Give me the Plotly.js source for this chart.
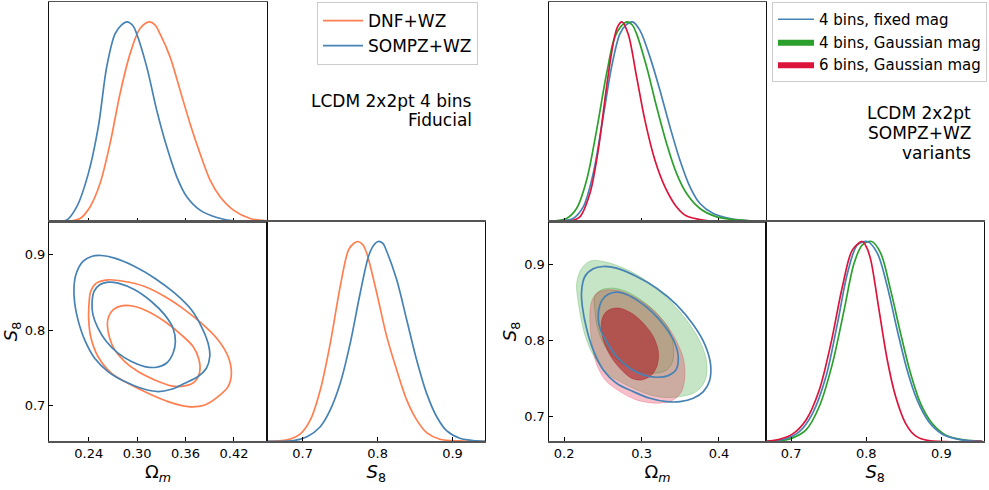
<!DOCTYPE html>
<html><head><meta charset="utf-8">
<script src="https://cdn.plot.ly/plotly-3.0.1.min.js"></script>
<style>html,body{margin:0;padding:0;background:#fff}#chart{width:989px;height:490px}</style>
</head><body><div id="chart"></div>
<script>
// ---------------- DATA ----------------
const omegaTicksLeft = [0.24, 0.30, 0.36, 0.42];
const omegaTicksRight = [0.2, 0.3, 0.4];
const s8Ticks = [0.7, 0.8, 0.9];
const omegaRangeLeft = [0.1908, 0.4609];
const s8RangeLeft = [0.6528, 0.9437];
const omegaRangeRight = [0.1798, 0.4611];
const s8RangeRight = [0.6670, 0.9567];
const densityRange = [0, 1.1];

const legendLeftNames = ['DNF+WZ', 'SOMPZ+WZ'];
const legendRightNames = ['4 bins, fixed mag', '4 bins, Gaussian mag', '6 bins, Gaussian mag'];
const textLeftLines = ['LCDM 2x2pt 4 bins', 'Fiducial'];
const textRightLines = ['LCDM 2x2pt', 'SOMPZ+WZ', 'variants'];

// Left: Omega_m marginals
const dnfOm_x = [0.1908, 0.2127, 0.2292, 0.2416, 0.254, 0.2664, 0.2788, 0.2912, 0.3036, 0.3151, 0.3222, 0.3284, 0.3408, 0.3532, 0.3656, 0.378, 0.3904, 0.4028, 0.4193, 0.44, 0.4609];
const dnfOm_p = [0, 0, 0.015, 0.073, 0.19, 0.39, 0.64, 0.84, 0.967, 1.0, 0.985, 0.94, 0.825, 0.658, 0.49, 0.34, 0.207, 0.124, 0.057, 0.015, 0.003];
const sompzOm_x = [0.1908, 0.2127, 0.2251, 0.2395, 0.2519, 0.2623, 0.2726, 0.2808, 0.2875, 0.2950, 0.2995, 0.3119, 0.3243, 0.3367, 0.3491, 0.3615, 0.378, 0.3987, 0.4193, 0.4609];
const sompzOm_p = [0, 0.007, 0.073, 0.24, 0.474, 0.775, 0.94, 0.985, 1.0, 0.98, 0.94, 0.775, 0.557, 0.374, 0.224, 0.124, 0.057, 0.02, 0.003, 0];
// Left: S8 marginals
const dnfS8_x = [0.6535, 0.6793, 0.6969, 0.7102, 0.7235, 0.7368, 0.7501, 0.7612, 0.7680, 0.7737, 0.7800, 0.7856, 0.7989, 0.8122, 0.8255, 0.8388, 0.8521, 0.8654, 0.8831, 0.9097, 0.9434];
const dnfS8_p = [0, 0.007, 0.037, 0.107, 0.257, 0.49, 0.775, 0.958, 0.99, 1, 0.985, 0.94, 0.741, 0.524, 0.357, 0.207, 0.107, 0.043, 0.01, 0.002, 0];
const sompzS8_x = [0.6535, 0.688, 0.7058, 0.7235, 0.7368, 0.7501, 0.7634, 0.7767, 0.7878, 0.7945, 0.8007, 0.8070, 0.8122, 0.8255, 0.8388, 0.8521, 0.8654, 0.8787, 0.892, 0.9097, 0.9319, 0.9434];
const sompzS8_p = [0, 0.003, 0.023, 0.073, 0.157, 0.29, 0.49, 0.741, 0.925, 0.98, 1, 0.99, 0.95, 0.808, 0.608, 0.407, 0.24, 0.124, 0.053, 0.015, 0.002, 0];
// Left: 2D contours (68% inner, 95% outer)
const sompzOuter_om = [0.2218, 0.2247, 0.2329, 0.2433, 0.2557, 0.2722, 0.2970, 0.3218, 0.3466, 0.3672, 0.3796, 0.3879, 0.3900, 0.3858, 0.3755, 0.3590, 0.3424, 0.3259, 0.3052, 0.2846, 0.2639, 0.2474, 0.2350, 0.2267, 0.2226, 0.2218];
const sompzOuter_s8 = [0.8577, 0.8753, 0.8908, 0.8974, 0.8987, 0.8952, 0.8842, 0.8687, 0.8488, 0.8268, 0.8047, 0.7826, 0.7650, 0.7495, 0.7385, 0.7296, 0.7217, 0.7186, 0.7230, 0.7318, 0.7451, 0.7627, 0.7870, 0.8135, 0.8356, 0.8577];
const sompzInner_om = [0.2441, 0.2466, 0.2536, 0.2639, 0.2763, 0.2970, 0.3176, 0.3342, 0.3445, 0.3474, 0.3445, 0.3362, 0.3238, 0.3094, 0.2929, 0.2763, 0.2619, 0.2515, 0.2453, 0.2441];
const sompzInner_s8 = [0.8356, 0.8511, 0.8599, 0.8634, 0.8621, 0.8533, 0.8378, 0.8201, 0.8025, 0.7848, 0.7694, 0.7561, 0.7508, 0.7517, 0.7583, 0.7694, 0.7848, 0.8025, 0.8201, 0.8356];
const dnfOuter_om = [0.2400, 0.2424, 0.2495, 0.2639, 0.2846, 0.3094, 0.3342, 0.3590, 0.3796, 0.4003, 0.4127, 0.4168, 0.4127, 0.4003, 0.3838, 0.3631, 0.3383, 0.3135, 0.2887, 0.2681, 0.2515, 0.2424, 0.2400, 0.2400];
const dnfOuter_s8 = [0.8268, 0.8511, 0.8621, 0.8665, 0.8643, 0.8577, 0.8444, 0.8268, 0.8091, 0.7870, 0.7650, 0.7429, 0.7252, 0.7120, 0.7009, 0.6987, 0.7053, 0.7164, 0.7296, 0.7429, 0.7650, 0.7915, 0.8135, 0.8268];
const dnfInner_om = [0.2631, 0.2648, 0.2701, 0.2805, 0.2970, 0.3135, 0.3342, 0.3548, 0.3693, 0.3767, 0.3776, 0.3714, 0.3590, 0.3424, 0.3218, 0.3011, 0.2846, 0.2722, 0.2660, 0.2631];
const dnfInner_s8 = [0.8069, 0.8179, 0.8268, 0.8321, 0.8312, 0.8246, 0.8113, 0.7937, 0.7782, 0.7605, 0.7451, 0.7318, 0.7261, 0.7261, 0.7340, 0.7451, 0.7583, 0.7738, 0.7892, 0.8069];

// Right: Omega_m marginals
const fixedOm_x = [0.1798, 0.1944, 0.2116, 0.2246, 0.2375, 0.2504, 0.2613, 0.272, 0.2800, 0.2884, 0.2979, 0.3108, 0.3237, 0.3367, 0.3496, 0.3625, 0.3754, 0.3926, 0.4142, 0.4401, 0.4611];
const fixedOm_p = [0, 0.002, 0.015, 0.073, 0.24, 0.524, 0.775, 0.94, 0.985, 1, 0.958, 0.825, 0.658, 0.474, 0.307, 0.174, 0.09, 0.04, 0.015, 0.003, 0];
const gauss4Om_x = [0.1798, 0.1858, 0.2031, 0.216, 0.229, 0.2419, 0.2548, 0.2655, 0.2740, 0.2815, 0.2880, 0.2936, 0.3065, 0.3195, 0.3324, 0.3453, 0.3582, 0.3754, 0.397, 0.4271, 0.4611];
const gauss4Om_p = [0, 0.002, 0.015, 0.065, 0.207, 0.457, 0.741, 0.925, 0.98, 1, 0.985, 0.94, 0.775, 0.574, 0.39, 0.24, 0.14, 0.065, 0.023, 0.007, 0];
const gauss6Om_x = [0.1798, 0.2074, 0.2203, 0.2332, 0.244, 0.2548, 0.2633, 0.2690, 0.2746, 0.2827, 0.2936, 0.3043, 0.3173, 0.3302, 0.3453, 0.3582, 0.3754, 0.397, 0.4611];
const gauss6Om_p = [0, 0.002, 0.023, 0.14, 0.357, 0.674, 0.891, 0.975, 1, 0.94, 0.725, 0.508, 0.307, 0.174, 0.073, 0.027, 0.01, 0, 0];
// Right: S8 marginals
const fixedS8_x = [0.6670, 0.6756, 0.6934, 0.711, 0.7286, 0.7464, 0.7617, 0.775, 0.7882, 0.8015, 0.8147, 0.828, 0.8412, 0.8544, 0.8677, 0.8832, 0.9008, 0.9229, 0.9543];
const fixedS8_p = [0, 0.002, 0.013, 0.048, 0.14, 0.324, 0.59, 0.841, 0.983, 1, 0.942, 0.775, 0.557, 0.357, 0.207, 0.098, 0.037, 0.01, 0];
const gauss4S8_x = [0.6670, 0.6845, 0.7021, 0.7199, 0.7375, 0.7551, 0.7706, 0.7838, 0.7948, 0.8073, 0.8192, 0.8324, 0.8457, 0.8589, 0.8722, 0.8876, 0.9053, 0.9273, 0.9543];
const gauss4S8_p = [0, 0.002, 0.017, 0.057, 0.174, 0.39, 0.658, 0.891, 0.983, 1, 0.942, 0.758, 0.54, 0.34, 0.19, 0.09, 0.032, 0.008, 0];
const gauss6S8_x = [0.6670, 0.6845, 0.7021, 0.7199, 0.7375, 0.753, 0.7683, 0.7816, 0.7948, 0.8005, 0.806, 0.817, 0.828, 0.8391, 0.8523, 0.8656, 0.8832, 0.9543];
const gauss6S8_p = [0, 0.01, 0.037, 0.107, 0.257, 0.49, 0.775, 0.958, 1, 0.97, 0.908, 0.658, 0.407, 0.224, 0.09, 0.027, 0.003, 0];
// Right: 2D contours
const gauss4Outer_om = [0.2160, 0.2203, 0.2289, 0.2375, 0.2505, 0.2720, 0.2979, 0.3237, 0.3453, 0.3625, 0.3754, 0.3832, 0.3841, 0.3776, 0.3668, 0.3496, 0.3323, 0.3108, 0.2893, 0.2720, 0.2548, 0.2375, 0.2281, 0.2225, 0.2181, 0.2160];
const gauss4Outer_s8 = [0.8732, 0.8908, 0.9018, 0.9053, 0.9040, 0.8974, 0.8842, 0.8644, 0.8424, 0.8205, 0.7985, 0.7765, 0.7545, 0.7391, 0.7303, 0.7259, 0.7246, 0.7281, 0.7369, 0.7457, 0.7567, 0.7809, 0.8029, 0.8249, 0.8512, 0.8732];
const gauss4Inner_om = [0.2397, 0.2483, 0.2634, 0.2806, 0.3022, 0.3194, 0.3345, 0.3410, 0.3401, 0.3323, 0.3173, 0.2979, 0.2806, 0.2634, 0.2505, 0.2427, 0.2397, 0.2397];
const gauss4Inner_s8 = [0.8578, 0.8666, 0.8688, 0.8644, 0.8512, 0.8358, 0.8161, 0.7941, 0.7721, 0.7611, 0.7567, 0.7589, 0.7655, 0.7787, 0.7963, 0.8183, 0.8402, 0.8578];
const gauss6Outer_om = [0.2354, 0.2419, 0.2548, 0.2720, 0.2936, 0.3151, 0.3323, 0.3453, 0.3539, 0.3560, 0.3517, 0.3410, 0.3194, 0.2936, 0.2720, 0.2548, 0.2440, 0.2375, 0.2341, 0.2332, 0.2354];
const gauss6Outer_s8 = [0.8512, 0.8622, 0.8666, 0.8653, 0.8556, 0.8402, 0.8205, 0.7985, 0.7765, 0.7545, 0.7325, 0.7215, 0.7171, 0.7215, 0.7325, 0.7457, 0.7633, 0.7853, 0.8117, 0.8337, 0.8512];
const gauss6Inner_om = [0.2483, 0.2526, 0.2612, 0.2720, 0.2871, 0.3022, 0.3151, 0.3216, 0.3203, 0.3130, 0.3000, 0.2871, 0.2720, 0.2591, 0.2505, 0.2483, 0.2483];
const gauss6Inner_s8 = [0.8249, 0.8358, 0.8416, 0.8424, 0.8358, 0.8227, 0.8051, 0.7853, 0.7677, 0.7545, 0.7479, 0.7501, 0.7633, 0.7809, 0.8007, 0.8139, 0.8249];
const fixedOuter_om = [0.2225, 0.2268, 0.2375, 0.2505, 0.2677, 0.2936, 0.3194, 0.3453, 0.3668, 0.3819, 0.3892, 0.3875, 0.3798, 0.3668, 0.3496, 0.3323, 0.3108, 0.2893, 0.2677, 0.2505, 0.2375, 0.2289, 0.2238, 0.2225];
const fixedOuter_s8 = [0.8644, 0.8842, 0.8943, 0.8974, 0.8952, 0.8842, 0.8688, 0.8468, 0.8205, 0.7941, 0.7677, 0.7457, 0.7325, 0.7237, 0.7193, 0.7193, 0.7237, 0.7325, 0.7435, 0.7611, 0.7875, 0.8161, 0.8424, 0.8644];
const fixedInner_om = [0.2440, 0.2462, 0.2526, 0.2634, 0.2763, 0.2936, 0.3130, 0.3302, 0.3431, 0.3474, 0.3444, 0.3345, 0.3194, 0.3022, 0.2849, 0.2677, 0.2548, 0.2470, 0.2440];
const fixedInner_s8 = [0.8293, 0.8468, 0.8578, 0.8631, 0.8622, 0.8534, 0.8380, 0.8183, 0.7963, 0.7765, 0.7611, 0.7536, 0.7514, 0.7545, 0.7633, 0.7787, 0.7985, 0.8139, 0.8293];

// ---------------- STYLE ----------------
const FONT = 'DejaVu Sans';
const ORANGE = '#ff7f50', BLUE = '#4682b4', GREEN = '#2ca02c', RED = '#dc143c';
const W = 989, H = 490;
const fx = v => v / W, fy = v => 1 - v / H;
const LW = 1.7;

function line(x, y, color, xa, ya, extra) {
  return Object.assign({type: 'scatter', mode: 'lines', x: x, y: y, xaxis: xa, yaxis: ya,
    line: {color: color, width: LW, shape: 'spline', smoothing: 0.9}, hoverinfo: 'skip', showlegend: false}, extra || {});
}
function filled(x, y, fillcolor, edge, xa, ya) {
  return {type: 'scatter', mode: 'lines', x: x, y: y, xaxis: xa, yaxis: ya, fill: 'toself', fillcolor: fillcolor,
    line: {color: edge, width: 0.8, shape: 'spline', smoothing: 0.9}, hoverinfo: 'skip', showlegend: false};
}

const traces = [
  line(dnfOm_x, dnfOm_p, ORANGE, 'x', 'y', {showlegend: true, name: legendLeftNames[0], legend: 'legend'}),
  line(sompzOm_x, sompzOm_p, BLUE, 'x', 'y', {showlegend: true, name: legendLeftNames[1], legend: 'legend'}),
  line(dnfOuter_om, dnfOuter_s8, ORANGE, 'x2', 'y2'),
  line(dnfInner_om, dnfInner_s8, ORANGE, 'x2', 'y2'),
  line(sompzOuter_om, sompzOuter_s8, BLUE, 'x2', 'y2'),
  line(sompzInner_om, sompzInner_s8, BLUE, 'x2', 'y2'),
  line(dnfS8_x, dnfS8_p, ORANGE, 'x3', 'y3'),
  line(sompzS8_x, sompzS8_p, BLUE, 'x3', 'y3'),
  line(fixedOm_x, fixedOm_p, BLUE, 'x5', 'y5', {showlegend: true, name: legendRightNames[0], legend: 'legend2'}),
  line(gauss4Om_x, gauss4Om_p, GREEN, 'x5', 'y5'),
  line(gauss6Om_x, gauss6Om_p, RED, 'x5', 'y5'),
  {type: 'scatter', mode: 'lines', x: [null], y: [null], xaxis: 'x5', yaxis: 'y5', fill: 'toself', fillcolor: GREEN,
   line: {color: GREEN, width: 0}, name: legendRightNames[1], legend: 'legend2', showlegend: true},
  {type: 'scatter', mode: 'lines', x: [null], y: [null], xaxis: 'x5', yaxis: 'y5', fill: 'toself', fillcolor: RED,
   line: {color: RED, width: 0}, name: legendRightNames[2], legend: 'legend2', showlegend: true},
  filled(gauss4Outer_om, gauss4Outer_s8, 'rgba(44,160,44,0.27)', 'rgba(44,160,44,0.35)', 'x6', 'y6'),
  filled(gauss4Inner_om, gauss4Inner_s8, 'rgba(44,160,44,0.2)', 'rgba(44,160,44,0.45)', 'x6', 'y6'),
  filled(gauss6Outer_om, gauss6Outer_s8, 'rgba(220,20,60,0.27)', 'rgba(220,20,60,0.3)', 'x6', 'y6'),
  filled(gauss6Inner_om, gauss6Inner_s8, 'rgba(175,30,40,0.6)', 'rgba(175,30,40,0.6)', 'x6', 'y6'),
  line(fixedOuter_om, fixedOuter_s8, BLUE, 'x6', 'y6'),
  line(fixedInner_om, fixedInner_s8, BLUE, 'x6', 'y6'),
  line(gauss4S8_x, gauss4S8_p, GREEN, 'x7', 'y7'),
  line(fixedS8_x, fixedS8_p, BLUE, 'x7', 'y7'),
  line(gauss6S8_x, gauss6S8_p, RED, 'x7', 'y7')
];

const tickFont = {family: FONT, size: 13, color: '#000'};
const titleFont = {family: FONT, size: 18, color: '#000'};
function xAxis(d0, d1, range, tickvals, fmt, labels, anchor, title) {
  const a = {domain: [fx(d0), fx(d1)], range: range, tickvals: tickvals, tickformat: fmt, showticklabels: labels,
    ticks: 'inside', ticklen: 4, tickwidth: 1, tickcolor: '#000', showline: true, mirror: true, linecolor: '#555', linewidth: 1.3,
    showgrid: false, zeroline: false, anchor: anchor, tickfont: tickFont, automargin: false, fixedrange: true};
  if (title) a.title = {text: title, font: titleFont, standoff: 5};
  return a;
}
function yAxis(d0, d1, range, tickvals, fmt, labels, anchor, title) {
  const a = {domain: [fy(d1), fy(d0)], range: range, tickvals: tickvals || [], tickformat: fmt, showticklabels: labels,
    ticks: tickvals ? 'inside' : '', ticklen: 4, tickwidth: 1, tickcolor: '#000', showline: true, mirror: true, linecolor: '#111', linewidth: 1,
    showgrid: false, zeroline: false, anchor: anchor, tickfont: tickFont, automargin: false, fixedrange: true};
  if (title) a.title = {text: title, font: titleFont, standoff: 2};
  return a;
}
function overlayY(over, anchor, range) {
  return {overlaying: over, anchor: anchor, side: 'left', range: range, tickvals: s8Ticks, ticks: 'inside', ticklen: 4,
    tickcolor: '#000', showticklabels: false, showline: false, showgrid: false, zeroline: false, fixedrange: true};
}

const OM = 'Ω<sub><i>m</i></sub>', S8 = '<i>S</i><sub>8</sub>';
const TOP0 = 2, MID = 221.5, BOT = 441.3;

const annotations = [];
textLeftLines.forEach((t, i) => annotations.push({text: t, xref: 'paper', yref: 'paper', x: fx(474), y: fy(101 + i * 19.5),
  xanchor: 'right', yanchor: 'middle', showarrow: false, font: {family: FONT, size: 17, color: '#000'}}));
textRightLines.forEach((t, i) => annotations.push({text: t, xref: 'paper', yref: 'paper', x: fx(973), y: fy(113 + i * 20),
  xanchor: 'right', yanchor: 'middle', showarrow: false, font: {family: FONT, size: 17, color: '#000'}}));

const layout = {
  width: W, height: H, margin: {l: 0, r: 0, t: 0, b: 0}, paper_bgcolor: '#fff', plot_bgcolor: 'rgba(0,0,0,0)',
  font: {family: FONT, color: '#000'},
  xaxis: xAxis(49, 267, omegaRangeLeft, omegaTicksLeft, '.2f', false, 'y'),
  yaxis: yAxis(TOP0, MID, densityRange, null, '', false, 'x'),
  xaxis2: xAxis(49, 267, omegaRangeLeft, omegaTicksLeft, '.2f', true, 'y2', OM),
  yaxis2: yAxis(MID, BOT, s8RangeLeft, s8Ticks, '.1f', true, 'x2', S8),
  xaxis3: xAxis(267.3, 485.3, s8RangeLeft, s8Ticks, '.1f', true, 'y3', S8),
  yaxis3: yAxis(MID, BOT, densityRange, null, '', false, 'x3'),
  yaxis4: overlayY('y3', 'x3', s8RangeLeft),
  xaxis5: xAxis(548.5, 766.3, omegaRangeRight, omegaTicksRight, '.1f', false, 'y5'),
  yaxis5: yAxis(TOP0, MID, densityRange, null, '', false, 'x5'),
  xaxis6: xAxis(548.5, 766.3, omegaRangeRight, omegaTicksRight, '.1f', true, 'y6', OM),
  yaxis6: yAxis(MID, BOT, s8RangeRight, s8Ticks, '.1f', true, 'x6', S8),
  xaxis7: xAxis(766.3, 984, s8RangeRight, s8Ticks, '.1f', true, 'y7', S8),
  yaxis7: yAxis(MID, BOT, densityRange, null, '', false, 'x7'),
  yaxis8: overlayY('y7', 'x7', s8RangeRight),
  legend: {x: fx(317), y: fy(2), xanchor: 'left', yanchor: 'top', bgcolor: '#fff', bordercolor: '#cccccc', borderwidth: 1,
    font: {family: FONT, size: 17, color: '#000'}, itemwidth: 40, tracegroupgap: 0},
  legend2: {x: fx(772), y: fy(2), xanchor: 'left', yanchor: 'top', bgcolor: '#fff', bordercolor: '#cccccc', borderwidth: 1,
    font: {family: FONT, size: 15, color: '#000'}, itemwidth: 36, tracegroupgap: 0},
  showlegend: true,
  annotations: annotations
};

Plotly.newPlot('chart', traces, layout, {displayModeBar: false, staticPlot: true});
</script></body></html>
